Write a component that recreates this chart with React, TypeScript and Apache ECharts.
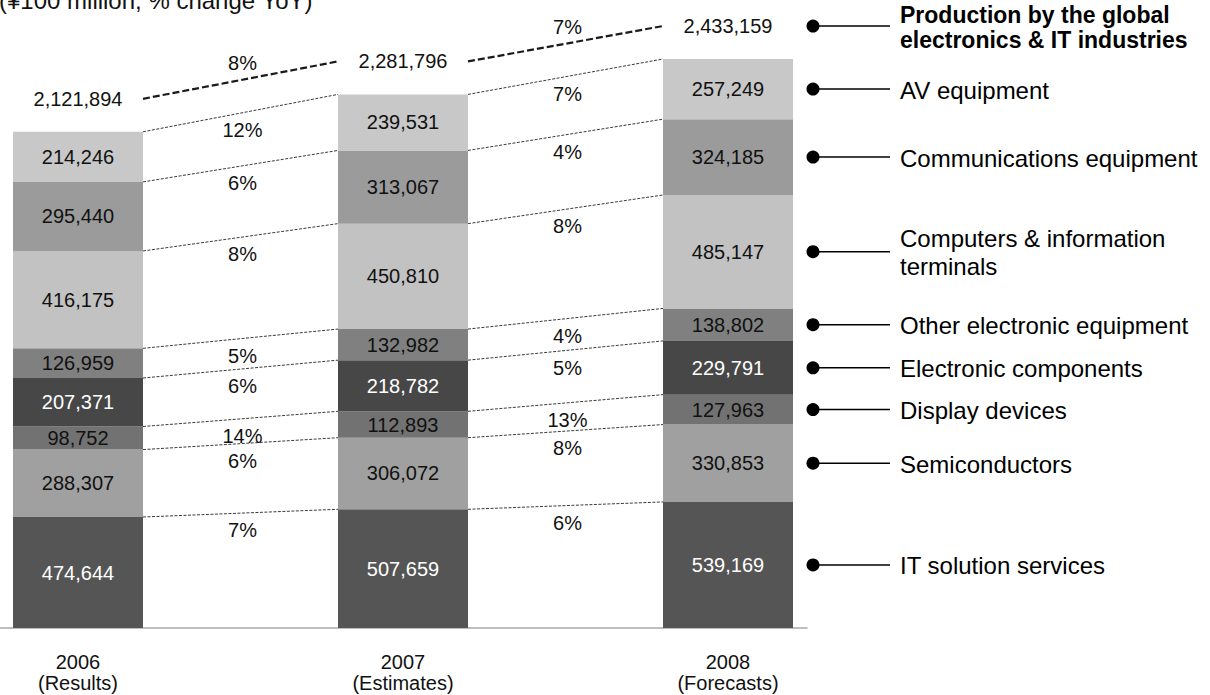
import React, { useEffect, useRef } from "react";
import * as echarts from "echarts";

const years = ["2006", "2007", "2008"];
const yearNotes = ["(Results)", "(Estimates)", "(Forecasts)"];
const segmentNames = [
  "IT solution services",
  "Semiconductors",
  "Display devices",
  "Electronic components",
  "Other electronic equipment",
  "Computers & information\nterminals",
  "Communications equipment",
  "AV equipment",
];
const itSolutionServices = [474644, 507659, 539169];
const semiconductors = [288307, 306072, 330853];
const displayDevices = [98752, 112893, 127963];
const electronicComponents = [207371, 218782, 229791];
const otherElectronicEquipment = [126959, 132982, 138802];
const computersTerminals = [416175, 450810, 485147];
const communicationsEquipment = [295440, 313067, 324185];
const avEquipment = [214246, 239531, 257249];
const totalProduction = [2121894, 2281796, 2433159];
const change2006to2007 = [7, 6, 14, 6, 5, 8, 6, 12];
const change2007to2008 = [6, 8, 13, 5, 4, 8, 4, 7];
const totalChange = [8, 7];
const totalName = "Production by the global\nelectronics & IT industries";
const unitNote = "(¥100 million, % change YoY)";

const segmentColors = ["#555555", "#a0a0a0", "#727272", "#474747", "#808080", "#c2c2c2", "#9b9b9b", "#c8c8c8"];
const labelColors = ["#ffffff", "#111111", "#111111", "#ffffff", "#111111", "#111111", "#111111", "#111111"];

const FONT = "'Liberation Sans', Arial, sans-serif";
const HALF_BAR = 65;
const TOTAL_OFFSET = 33;

const fmt = (n: number) => n.toLocaleString("en-US");

export default function App() {
  const ref = useRef<HTMLDivElement>(null);

  useEffect(() => {
    if (!ref.current) return;
    const chart = echarts.init(ref.current, undefined, { renderer: "svg" });

    const segValues = [
      itSolutionServices,
      semiconductors,
      displayDevices,
      electronicComponents,
      otherElectronicEquipment,
      computersTerminals,
      communicationsEquipment,
      avEquipment,
    ];
    const changes = [change2006to2007, change2007to2008];
    const cum: number[][] = [];
    segValues.forEach((vals, k) => {
      cum.push(vals.map((v, i) => v + (k > 0 ? cum[k - 1][i] : 0)));
    });

    type Overlay =
      | { kind: "link"; gap: number; seg: number }
      | { kind: "totalLink"; gap: number }
      | { kind: "totalLabel"; year: number }
      | { kind: "legend"; seg: number };
    const overlays: Overlay[] = [];
    for (let g = 0; g < years.length - 1; g++) {
      for (let k = 0; k < segValues.length; k++) overlays.push({ kind: "link", gap: g, seg: k });
      overlays.push({ kind: "totalLink", gap: g });
    }
    years.forEach((_, i) => overlays.push({ kind: "totalLabel", year: i }));
    for (let k = -1; k < segValues.length; k++) overlays.push({ kind: "legend", seg: k });

    const last = years.length - 1;

    const txt = (text: string, size: number, extra: any = {}) => ({
      text,
      fontSize: size,
      fontFamily: FONT,
      fill: "#111111",
      align: "center",
      verticalAlign: "middle",
      ...extra,
    });

    const renderItem = (params: any, api: any) => {
      const o = overlays[params.dataIndex];
      if (o.kind === "link") {
        const a = api.coord([o.gap, cum[o.seg][o.gap]]);
        const b = api.coord([o.gap + 1, cum[o.seg][o.gap + 1]]);
        const x1 = a[0] + HALF_BAR, y1 = a[1], x2 = b[0] - HALF_BAR, y2 = b[1];
        return {
          type: "group",
          children: [
            { type: "line", shape: { x1, y1, x2, y2 }, style: { stroke: "#3a3a3a", lineWidth: 1, lineDash: [3, 1.5] } },
            { type: "text", x: (x1 + x2) / 2 + 2, y: (y1 + y2) / 2 + 17, style: txt(`${changes[o.gap][o.seg]}%`, 20) },
          ],
        };
      }
      if (o.kind === "totalLink") {
        const a = api.coord([o.gap, totalProduction[o.gap]]);
        const b = api.coord([o.gap + 1, totalProduction[o.gap + 1]]);
        const x1 = a[0] + HALF_BAR, y1 = a[1] - TOTAL_OFFSET, x2 = b[0] - HALF_BAR, y2 = b[1] - TOTAL_OFFSET;
        return {
          type: "group",
          children: [
            { type: "line", shape: { x1, y1, x2, y2 }, style: { stroke: "#1a1a1a", lineWidth: 2.2, lineDash: [7, 3] } },
            { type: "text", x: (x1 + x2) / 2 + 2, y: (y1 + y2) / 2 - 17, style: txt(`${totalChange[o.gap]}%`, 20) },
          ],
        };
      }
      if (o.kind === "totalLabel") {
        const p = api.coord([o.year, totalProduction[o.year]]);
        return { type: "text", x: p[0], y: p[1] - TOTAL_OFFSET, style: txt(fmt(totalProduction[o.year]), 20) };
      }
      let cy: number;
      let label: string;
      let bold = false;
      let px: number;
      if (o.seg < 0) {
        const p = api.coord([last, totalProduction[last]]);
        px = p[0];
        cy = p[1] - TOTAL_OFFSET;
        label = totalName;
        bold = true;
      } else {
        const p = api.coord([last, cum[o.seg][last] - segValues[o.seg][last] / 2]);
        px = p[0];
        cy = p[1];
        label = segmentNames[o.seg];
      }
      const dotX = px + HALF_BAR + 20;
      return {
        type: "group",
        children: [
          { type: "circle", shape: { cx: dotX, cy, r: 6.5 }, style: { fill: "#000000" } },
          { type: "line", shape: { x1: dotX, y1: cy, x2: dotX + 77, y2: cy }, style: { stroke: "#000000", lineWidth: 1.5 } },
          {
            type: "text",
            x: dotX + 87,
            y: cy + 1,
            style: txt(label, bold ? 23 : 24, {
              align: "left",
              fill: "#000000",
              fontWeight: bold ? "bold" : "normal",
              lineHeight: bold ? 25 : 28,
            }),
          },
        ],
      };
    };

    const option: any = {
      animation: false,
      backgroundColor: "#ffffff",
      grid: [
        { left: 78, width: 650, top: 20, bottom: 67 },
        { left: 0, width: 807, top: 20, bottom: 67 },
      ],
      xAxis: [
        {
          type: "category",
          gridIndex: 0,
          data: years,
          boundaryGap: false,
          axisLine: { show: false },
          axisTick: { show: false },
          axisLabel: {
            formatter: (v: string, i: number) => `${v}\n${yearNotes[i]}`,
            fontSize: 20,
            lineHeight: 21,
            color: "#111111",
            fontFamily: FONT,
            margin: 23,
          },
        },
        {
          type: "value",
          gridIndex: 1,
          min: 0,
          max: 1,
          splitLine: { show: false },
          axisTick: { show: false },
          axisLabel: { show: false },
          axisLine: { show: true, onZero: false, lineStyle: { color: "#a9a9a9", width: 1.5 } },
        },
      ],
      yAxis: [
        { type: "value", gridIndex: 0, min: 0, max: 2600000, show: false },
        { type: "value", gridIndex: 1, min: 0, max: 1, show: false },
      ],
      graphic: [
        {
          type: "text",
          x: -1,
          y: 0,
          style: { text: unitNote, fontSize: 24, fontFamily: FONT, fill: "#111111", align: "left", verticalAlign: "middle" },
        },
      ],
      series: [
        ...segValues.map((vals, k) => ({
          type: "bar",
          name: segmentNames[k],
          stack: "total",
          barWidth: 130,
          clip: false,
          silent: true,
          xAxisIndex: 0,
          yAxisIndex: 0,
          data: vals,
          itemStyle: { color: segmentColors[k] },
          label: {
            show: true,
            position: "inside",
            formatter: (p: any) => fmt(p.value),
            color: labelColors[k],
            fontSize: 20,
            fontFamily: FONT,
          },
        })),
        {
          type: "custom",
          silent: true,
          clip: false,
          xAxisIndex: 0,
          yAxisIndex: 0,
          renderItem,
          data: overlays.map(() => [0, 0]),
          z: 5,
        },
      ],
    };

    chart.setOption(option);
    return () => chart.dispose();
  }, []);

  return <div ref={ref} style={{ position: "absolute", left: 0, top: 0, width: 1210, height: 695 }} />;
}
